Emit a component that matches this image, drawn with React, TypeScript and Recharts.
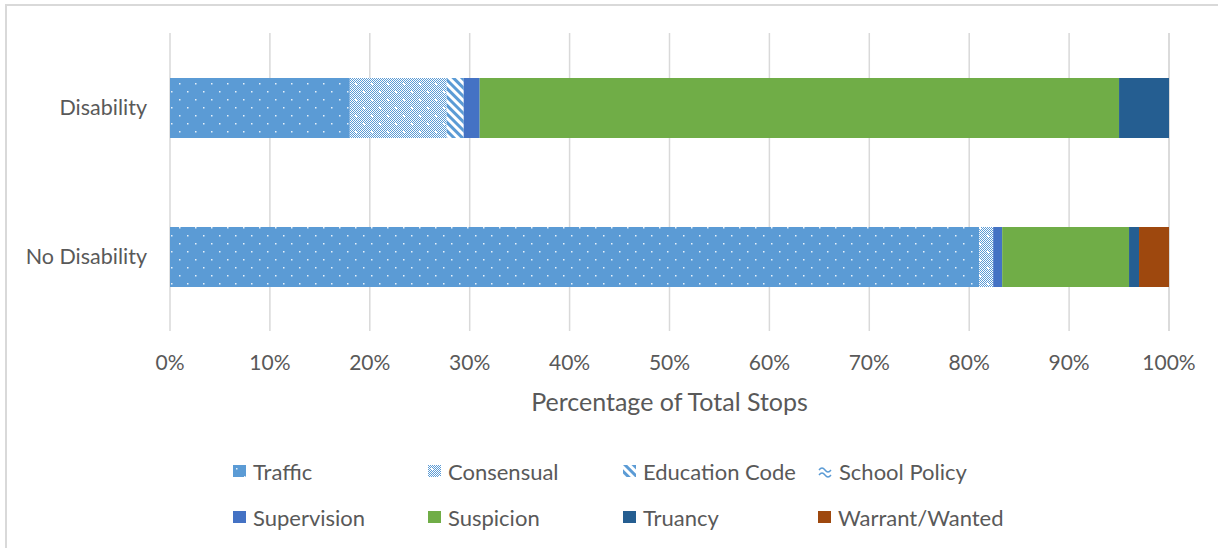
import React from 'react';
import { BarChart, Bar, XAxis, YAxis, CartesianGrid, Legend } from 'recharts';

// values (percent of total stops)
const categories = ['Disability', 'No Disability'];
const traffic = [18.0, 81.0];
const consensual = [9.7, 1.4];
const educationCode = [1.7, 0];
const schoolPolicy = [0, 0];
const supervision = [1.6, 0.9];
const suspicion = [64.0, 12.7];
const truancy = [5.0, 1.0];
const warrantWanted = [0, 3.0];
const xTicks = [0, 10, 20, 30, 40, 50, 60, 70, 80, 90, 100];

const FONT = 'Lato, "Open Sans", sans-serif';
const TEXT = '#595959';
const GRID = '#d9d9d9';

const series = [
  { key: 'traffic', name: 'Traffic', values: traffic, fill: 'url(#pTraffic)' },
  { key: 'consensual', name: 'Consensual', values: consensual, fill: 'url(#pConsensual)' },
  { key: 'educationCode', name: 'Education Code', values: educationCode, fill: 'url(#pEducation)' },
  { key: 'schoolPolicy', name: 'School Policy', values: schoolPolicy, fill: 'url(#pPolicy)' },
  { key: 'supervision', name: 'Supervision', values: supervision, fill: '#4472C4' },
  { key: 'suspicion', name: 'Suspicion', values: suspicion, fill: '#70AD47' },
  { key: 'truancy', name: 'Truancy', values: truancy, fill: '#255E91' },
  { key: 'warrant', name: 'Warrant/Wanted', values: warrantWanted, fill: '#9E480E' },
];

const data = categories.map((c, i) => {
  const row: Record<string, string | number> = { category: c };
  series.forEach(s => {
    row[s.key] = s.values[i];
  });
  return row;
});

// 1px checkerboard squares for the consensual texture
let checkPath = '';
for (let y = 0; y < 16; y++) {
  for (let x = y % 2; x < 16; x += 2) {
    checkPath += `M${x} ${y}h1v1h-1z`;
  }
}

const PolicyIcon = () => (
  <svg width={14} height={13} style={{ display: 'block' }}>
    <path d="M1 5 Q4 1 7 5 T13 5" stroke="#5B9BD5" strokeWidth={1.4} fill="none" />
    <path d="M1 10 Q4 6 7 10 T13 10" stroke="#5B9BD5" strokeWidth={1.4} fill="none" />
  </svg>
);

const LegendContent = () => (
  <div style={{ position: 'relative', width: 1218, height: 80, fontFamily: FONT, fontSize: 22, color: TEXT }}>
    {series.map((s, i) => {
      const col = i % 4;
      const row = Math.floor(i / 4);
      return (
        <div
          key={s.key}
          style={{
            position: 'absolute',
            left: 233 + col * 195,
            top: row * 46,
            height: 28,
            display: 'flex',
            alignItems: 'center',
            whiteSpace: 'nowrap',
          }}
        >
          {s.key === 'schoolPolicy' ? (
            <PolicyIcon />
          ) : (
            <svg width={13} height={12} style={{ display: 'block' }}>
              <rect x={0} y={0} width={13} height={12} fill={s.fill} />
            </svg>
          )}
          <span style={{ marginLeft: 7 }}>{s.name}</span>
        </div>
      );
    })}
  </div>
);

export default function App() {
  return (
    <div style={{ position: 'relative', width: 1218, height: 548, overflow: 'hidden', background: '#fff' }}>
      <style>{'body{margin:0}'}</style>
      <div
        style={{
          position: 'absolute',
          left: 5,
          top: 4,
          width: 1300,
          height: 700,
          border: `2px solid ${GRID}`,
        }}
      />
      <BarChart
        width={1218}
        height={548}
        data={data}
        layout="vertical"
        margin={{ top: 33, right: 49, left: 0, bottom: 137 }}
        barSize={60}
      >
        <defs>
          <pattern id="pTraffic" width={16} height={16} patternUnits="userSpaceOnUse">
            <rect width={16} height={16} fill="#5B9BD5" />
            <rect x={3} y={3} width={1.5} height={1.5} fill="#fff" opacity={0.85} />
            <rect x={11} y={11} width={1.5} height={1.5} fill="#fff" opacity={0.85} />
          </pattern>
          <pattern id="pConsensual" width={16} height={16} patternUnits="userSpaceOnUse">
            <rect width={16} height={16} fill="#fff" />
            <path d={checkPath} fill="#5B9BD5" shapeRendering="crispEdges" />
            <rect x={3} y={3} width={2} height={2} fill="#fff" />
            <rect x={11} y={11} width={2} height={2} fill="#fff" />
          </pattern>
          <pattern id="pEducation" width={6} height={6} patternUnits="userSpaceOnUse" patternTransform="rotate(-45)">
            <rect width={6} height={6} fill="#fff" />
            <rect x={0} y={0} width={3} height={6} fill="#5B9BD5" />
          </pattern>
          <pattern id="pPolicy" width={8} height={6} patternUnits="userSpaceOnUse">
            <rect width={8} height={6} fill="#fff" />
            <path d="M0 3 Q2 0 4 3 T8 3" stroke="#5B9BD5" strokeWidth={1.2} fill="none" />
          </pattern>
        </defs>
        <CartesianGrid horizontal={false} stroke={GRID} strokeWidth={1.5} />
        <XAxis
          type="number"
          domain={[0, 100]}
          ticks={xTicks}
          tickFormatter={v => `${v}%`}
          axisLine={false}
          tickLine={false}
          tickSize={0}
          tickMargin={24}
          height={80}
          tick={{ fill: TEXT, fontSize: 21, fontFamily: FONT }}
          label={{
            value: 'Percentage of Total Stops',
            position: 'insideBottom',
            offset: 0,
            fill: TEXT,
            fontSize: 25,
            fontFamily: FONT,
          }}
        />
        <YAxis
          type="category"
          dataKey="category"
          width={170}
          axisLine={false}
          tickLine={false}
          tickSize={0}
          tickMargin={23}
          tick={{ fill: TEXT, fontSize: 21.5, fontFamily: FONT }}
        />
        <Legend
          layout="horizontal"
          verticalAlign="middle"
          align="center"
          content={<LegendContent />}
          wrapperStyle={{ top: 457, left: 0, width: 1218, height: 80 }}
        />
        {series.map(s => (
          <Bar
            key={s.key}
            dataKey={s.key}
            name={s.name}
            stackId="a"
            fill={s.fill}
            isAnimationActive={false}
          />
        ))}
      </BarChart>
    </div>
  );
}
